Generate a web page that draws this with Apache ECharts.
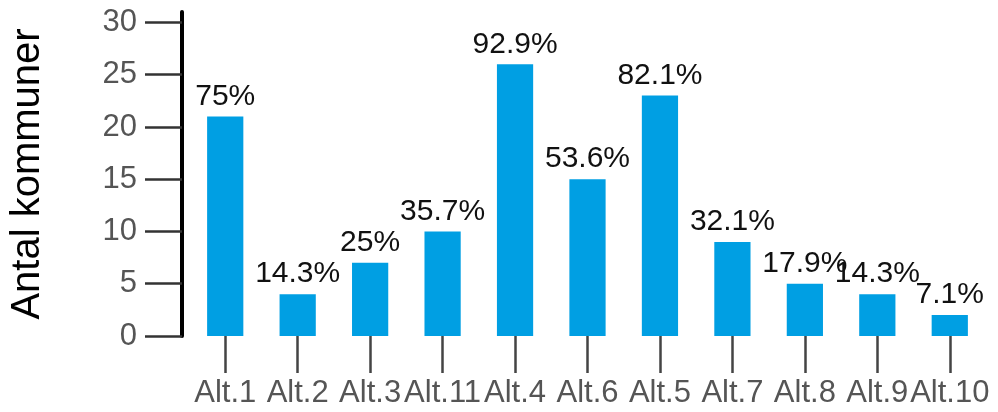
<!DOCTYPE html>
<html>
<head>
<meta charset="utf-8">
<script src="https://cdn.jsdelivr.net/npm/echarts@6/dist/echarts.min.js"></script>
<style>
html,body{margin:0;padding:0;background:#fff;}
#chart{width:998px;height:412px;}
</style>
</head>
<body>
<div id="chart"></div>
<script>
const categories = ['Alt.1','Alt.2','Alt.3','Alt.11','Alt.4','Alt.6','Alt.5','Alt.7','Alt.8','Alt.9','Alt.10'];
const counts = [21, 4, 7, 10, 26, 15, 23, 9, 5, 4, 2];
const percentLabels = ['75%','14.3%','25%','35.7%','92.9%','53.6%','82.1%','32.1%','17.9%','14.3%','7.1%'];
const yTicks = [0, 5, 10, 15, 20, 25, 30];
const yTitle = 'Antal kommuner';

const FONT = '"Liberation Sans", Arial, sans-serif';
const chart = echarts.init(document.getElementById('chart'), null, {renderer: 'canvas'});
chart.setOption({
  animation: false,
  backgroundColor: '#fff',
  grid: {left: 189, right: 12, top: 12, bottom: 76, containLabel: false, outerBoundsMode: 'none'},
  xAxis: {
    type: 'category',
    data: categories,
    axisLine: {show: false},
    axisTick: {show: true, alignWithLabel: true, length: 37, lineStyle: {color: '#444', width: 2.5}},
    axisLabel: {interval: 0, margin: 42, color: '#555', fontSize: 31, fontFamily: FONT}
  },
  yAxis: {
    type: 'value',
    min: 0,
    max: 31,
    offset: 7,
    name: yTitle,
    nameLocation: 'middle',
    nameGap: 134,
    nameTextStyle: {fontSize: 40, color: '#000', fontFamily: FONT},
    axisLine: {show: true, lineStyle: {color: '#000', width: 4}},
    axisTick: {show: true, length: 37, customValues: yTicks, lineStyle: {color: '#333', width: 2.5}},
    axisLabel: {customValues: yTicks, margin: 45, color: '#555', fontSize: 31, fontFamily: FONT},
    splitLine: {show: false}
  },
  series: [{
    type: 'bar',
    data: counts,
    barWidth: '50%',
    itemStyle: {color: '#009FE3'},
    label: {
      show: true,
      position: 'top',
      distance: 5,
      color: '#111',
      fontSize: 30,
      fontFamily: FONT,
      formatter: p => percentLabels[p.dataIndex]
    }
  }]
});
</script>
</body>
</html>
